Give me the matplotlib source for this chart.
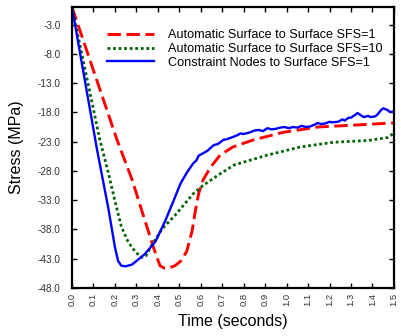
import matplotlib
matplotlib.use("Agg")
import matplotlib.pyplot as plt

plt.rcParams['font.family'] = ['Liberation Sans', 'DejaVu Sans']

# Automatic Surface to Surface, SFS=1
t_red = [0, 0.21, 0.28, 0.34, 0.38, 0.41, 0.43, 0.449, 0.48, 0.51, 0.535, 0.56,
         0.575, 0.59, 0.61, 0.645, 0.69, 0.75, 0.845, 0.985, 1.145, 1.3, 1.5]
s_red = [0, -22.7, -29.5, -36.5, -41.1, -44.2, -44.6, -44.6, -44.2, -43.3, -41.7, -38.2,
         -34.8, -31.9, -29.6, -27.4, -25.3, -23.9, -22.7, -21.4, -20.5, -20.2, -19.8]

# Automatic Surface to Surface, SFS=10
t_green = [0, 0.13, 0.17, 0.20, 0.23, 0.26, 0.28, 0.30, 0.325, 0.345, 0.37, 0.42,
           0.48, 0.565, 0.61, 0.69, 0.755, 0.8, 0.91, 1.065, 1.22, 1.38, 1.47, 1.49, 1.5]
s_green = [0, -22.7, -28.4, -33.1, -37.5, -40.0, -41.1, -42.0, -42.8, -42.5, -40.8, -37.9,
           -35.6, -31.9, -30.5, -28.5, -27.0, -26.5, -25.3, -23.9, -23.1, -22.8, -22.3, -21.8, -21.2]

# Constraint Nodes to Surface, SFS=1
t_blue = [0, 0.115, 0.17, 0.20, 0.215, 0.23, 0.25, 0.28, 0.34, 0.39, 0.435, 0.48,
          0.505, 0.535, 0.565, 0.58, 0.59, 0.61, 0.63, 0.66, 0.68, 0.705, 0.72, 0.75,
          0.77, 0.785, 0.80, 0.83, 0.85, 0.87, 0.89, 0.91, 0.93, 0.95, 0.97, 0.99,
          1.01, 1.03, 1.05, 1.07, 1.09, 1.11, 1.13, 1.145, 1.16, 1.18, 1.20, 1.21,
          1.24, 1.26, 1.27, 1.29, 1.30, 1.32, 1.33, 1.35, 1.36, 1.38, 1.39, 1.41,
          1.42, 1.44, 1.45, 1.47, 1.48, 1.5]
s_blue = [0, -24.0, -34.5, -41.0, -43.4, -44.2, -44.3, -44.0, -42.2, -40.0, -36.5, -32.5,
          -30.2, -28.3, -26.7, -26.2, -25.4, -25.0, -24.6, -23.6, -23.4, -22.7, -22.6, -22.2,
          -21.9, -21.6, -21.7, -21.4, -21.1, -21.0, -21.2, -20.7, -20.9, -20.8, -20.6, -20.5,
          -20.7, -20.5, -20.6, -20.3, -20.5, -20.4, -20.1, -19.8, -20.0, -19.9, -19.6, -19.7,
          -19.6, -19.2, -19.4, -18.9, -18.9, -18.4, -18.1, -18.6, -18.8, -18.6, -18.8, -18.7,
          -18.5, -17.6, -17.3, -17.6, -17.9, -17.9]

labels = ["Automatic Surface to Surface SFS=1",
          "Automatic Surface to Surface SFS=10",
          "Constraint Nodes to Surface SFS=1"]

x_ticks = [i / 10 for i in range(16)]
y_ticks = [-3, -8, -13, -18, -23, -28, -33, -38, -43, -48]

fig = plt.figure(figsize=(4.02, 3.36), dpi=100)
ax = fig.add_axes([0.179, 0.143, 0.801, 0.836])

ax.plot(t_red, s_red, color='#ff0000', lw=2.1, dashes=(4.6, 1.9), label=labels[0])
ax.plot(t_green, s_green, color='#006400', lw=2.0, dashes=(1.0, 1.0), label=labels[1])
ax.plot(t_blue, s_blue, color='#0000ff', lw=1.7, label=labels[2])

ax.set_xlim(0, 1.5)
ax.set_ylim(-48, 0)
ax.set_xticks(x_ticks)
ax.set_xticklabels([f"{v:.1f}" for v in x_ticks], rotation=90, fontsize=6.8)
ax.set_yticks(y_ticks)
ax.set_yticklabels([f"{v:.1f}" for v in y_ticks], fontsize=7.2)
ax.tick_params(direction='in', length=3.5, width=1.0, top=True, right=True,
               colors='black', labelcolor='#333333')
ax.tick_params(axis='y', pad=8)

for sp in ax.spines.values():
    sp.set_linewidth(1.6)

ax.set_xlabel("Time (seconds)", fontsize=11.5, labelpad=6)
ax.set_ylabel("Stress (MPa)", fontsize=11.5, labelpad=10)

leg = ax.legend(loc='upper left', bbox_to_anchor=(0.074, 0.962), frameon=False,
                fontsize=9.1, handlelength=3.7, handletextpad=1.1, labelspacing=0.15)

fig.savefig("out.png", dpi=100)
